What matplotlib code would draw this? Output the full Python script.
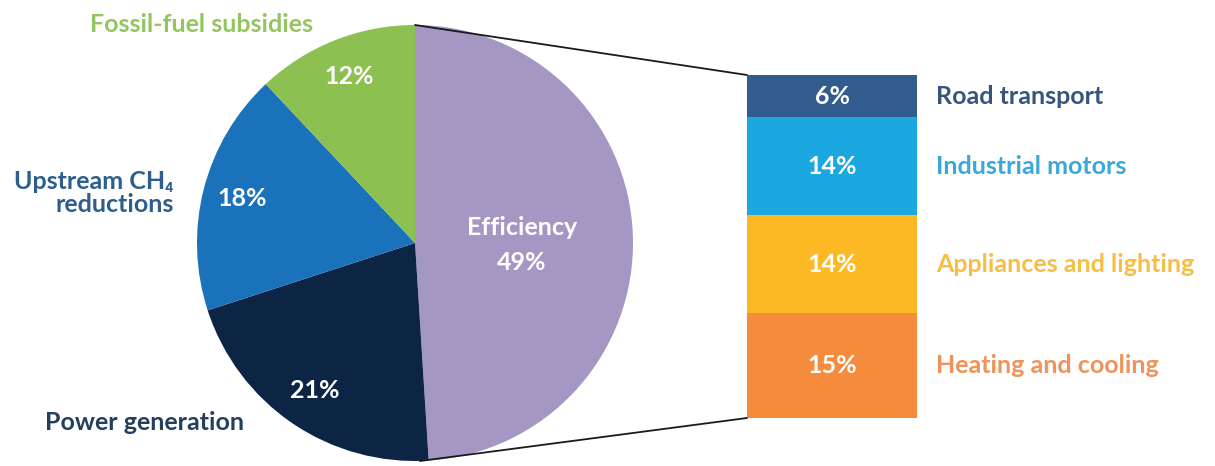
import matplotlib
matplotlib.use("Agg")
import matplotlib.pyplot as plt
from matplotlib.patches import ConnectionPatch
import numpy as np

# Pie: share of savings by measure
pie_labels = ["Efficiency", "Power generation", "Upstream CH\u2084\nreductions", "Fossil-fuel subsidies"]
pie_values = [49, 21, 18, 12]
pie_colors = ["#A597C4", "#0D2544", "#1A72BA", "#8CC152"]
pie_label_colors = [None, "#243F5E", "#2D5F8E", "#93C65E"]

# Breakdown of the efficiency slice
bar_labels = ["Road transport", "Industrial motors", "Appliances and lighting", "Heating and cooling"]
bar_values = [6, 14, 14, 15]
bar_colors = ["#335C8E", "#1BA8E0", "#FDB924", "#F58B3D"]
bar_label_colors = ["#35557D", "#3AA8D8", "#F6BE45", "#EF935A"]

FONT = ["Lato", "DejaVu Sans"]
FS = 18
W, H = 1215, 466

fig = plt.figure(figsize=(W / 100, H / 100), dpi=100)
ax = fig.add_axes([0, 0, 1, 1])

cx, cy, r = 415, H - 243, 218
wedges, _ = ax.pie(pie_values, colors=pie_colors, startangle=90, counterclock=False,
                   center=(cx, cy), radius=r, frame=True,
                   wedgeprops=dict(linewidth=0, zorder=3))
ax.set_xlim(0, W)
ax.set_ylim(0, H)
ax.set_aspect("equal")
ax.axis("off")

# Percent labels inside wedges
for i, (w, v) in enumerate(zip(wedges, pie_values)):
    ang = np.deg2rad((w.theta1 + w.theta2) / 2)
    if i == 0:
        ax.text(cx + 0.49 * r * np.cos(ang), cy - 0.01 * r,
                f"Efficiency\n{v}%", ha="center", va="center", color="white",
                fontsize=FS, fontweight="bold", family=FONT, linespacing=1.6, zorder=5)
    else:
        ax.text(cx + 0.82 * r * np.cos(ang), cy + 0.82 * r * np.sin(ang), f"{v}%",
                ha="center", va="center", color="white", fontsize=FS,
                fontweight="bold", family=FONT, zorder=5)

# Outside category labels
ax.text(201, H - 24, pie_labels[3], ha="center", va="center", color=pie_label_colors[3],
        fontsize=FS, fontweight="bold", family=FONT)
ax.text(174, H - 193, pie_labels[2], ha="right", va="center", color=pie_label_colors[2],
        fontsize=FS, fontweight="bold", family=FONT, multialignment="right", linespacing=1.0)
ax.text(45, H - 422, pie_labels[1], ha="left", va="center", color=pie_label_colors[1],
        fontsize=FS, fontweight="bold", family=FONT)

# Stacked bar for the efficiency breakdown
bax = fig.add_axes([747 / W, (H - 418) / H, 170 / W, 343 / H])
total = sum(bar_values)
bottoms = np.concatenate([[0], np.cumsum(bar_values)[:-1]])
bax.bar([0] * len(bar_values), bar_values, bottom=bottoms, width=1.0,
        color=bar_colors, linewidth=0)
bax.set_xlim(-0.5, 0.5)
bax.set_ylim(total, 0)
bax.axis("off")
for b, v, lab, lc in zip(bottoms, bar_values, bar_labels, bar_label_colors):
    mid = b + v / 2
    bax.text(0, mid, f"{v}%", ha="center", va="center", color="white",
             fontsize=FS, fontweight="bold", family=FONT)
    bax.text(0.61, mid, lab, ha="left", va="center", color=lc,
             fontsize=FS, fontweight="bold", family=FONT, clip_on=False)

# Connector lines from the pie to the bar
for (px, py), by in [((cx, cy + r), 0), ((cx + 5, cy - r), total)]:
    con = ConnectionPatch(xyA=(px, py), coordsA=ax.transData,
                          xyB=(-0.5, by), coordsB=bax.transData,
                          color="#1a1a1a", linewidth=1.3, zorder=1)
    fig.add_artist(con)

fig.savefig("out.png", dpi=100, facecolor="white")
